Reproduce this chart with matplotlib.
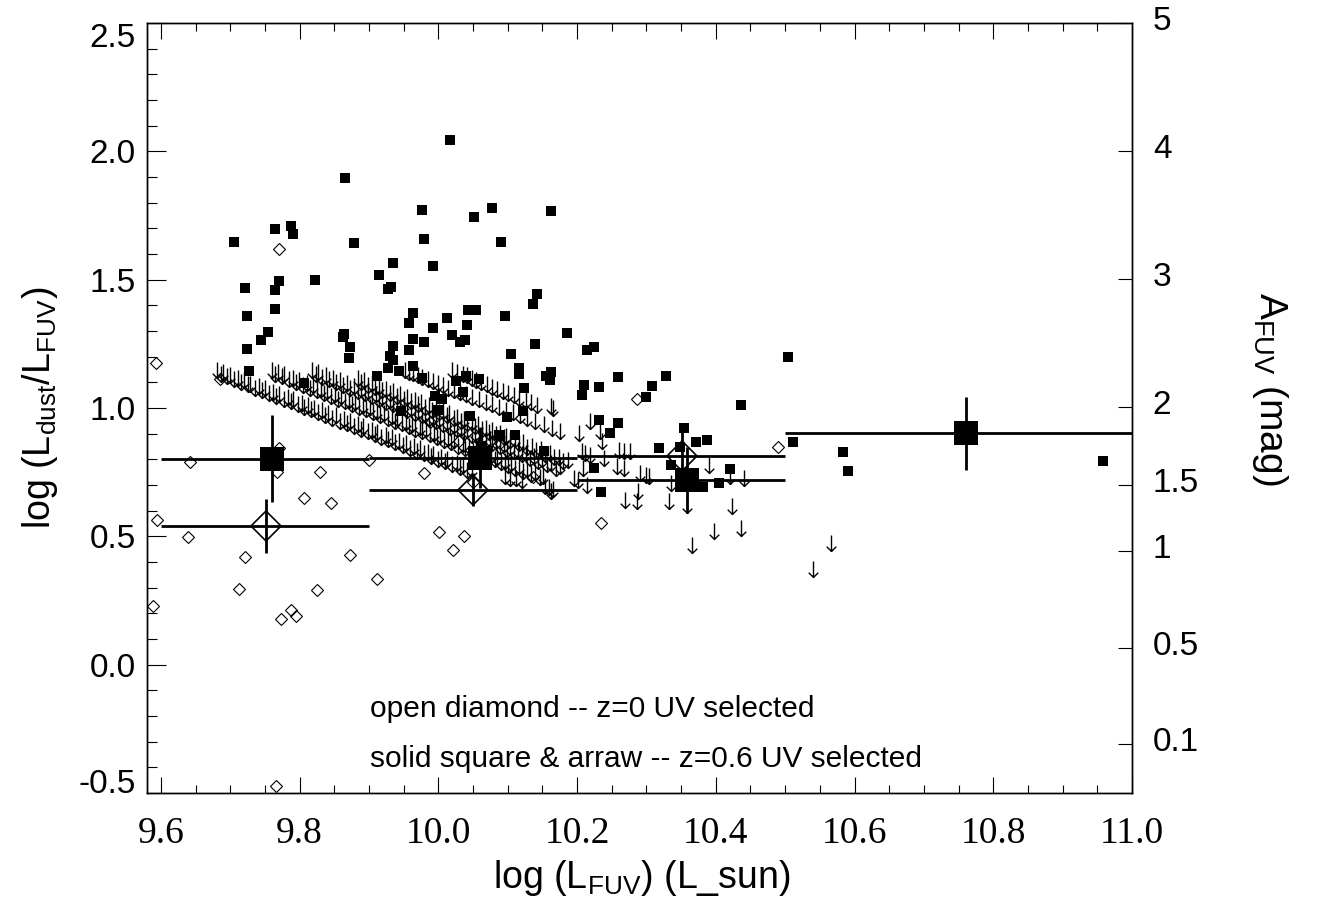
import matplotlib
matplotlib.use("Agg")
import matplotlib.pyplot as plt
from matplotlib.path import Path
from matplotlib.ticker import MultipleLocator, NullLocator
from matplotlib.transforms import ScaledTranslation

plt.rcParams["font.family"] = ["Liberation Sans", "DejaVu Sans"]
plt.rcParams["mathtext.fontset"] = "custom"
plt.rcParams["mathtext.rm"] = "Liberation Sans"
plt.rcParams["mathtext.it"] = "Liberation Sans:italic"
plt.rcParams["mathtext.bf"] = "Liberation Sans:bold"

# ---------------- data ----------------
# z=0.6 UV selected: detections (small solid squares)
sq_x = [10.017, 9.865, 9.976, 10.078, 10.051, 10.162, 9.764, 9.787, 9.791, 9.705,
        9.878, 9.980, 10.090, 9.935, 9.992, 9.914, 9.721, 9.764, 9.771, 9.822,
        9.927, 9.932, 10.142, 10.137, 9.764, 9.724, 9.963, 9.957, 10.012, 10.043,
        10.054, 10.041, 10.096, 9.992, 9.755, 9.744, 9.864, 9.862, 10.019, 9.963,
        9.979, 10.039, 10.031, 10.185, 10.140, 9.724, 9.872, 9.935, 9.957, 10.225,
        10.214, 10.504, 10.259, 10.328, 10.308, 10.300, 10.210, 10.232, 10.207, 10.436,
        10.231, 10.259, 10.248, 10.354, 10.371, 10.388, 10.318, 10.348, 10.511, 10.584,
        10.590, 10.421, 10.336, 10.405, 10.381, 10.224, 10.234, 10.152, 10.123, 10.117,
        10.117, 10.163, 10.155, 10.161, 10.105, 10.122, 10.099, 10.111, 10.087, 10.045,
        10.058, 10.026, 10.035, 9.995, 10.005, 9.999, 9.964, 10.040, 9.977, 9.946,
        10.958, 9.727, 9.871, 9.931, 9.935, 9.928, 9.943, 9.806, 9.911, 10.062]
sq_y = [2.044, 1.897, 1.772, 1.780, 1.745, 1.769, 1.699, 1.709, 1.679, 1.647,
        1.644, 1.660, 1.648, 1.566, 1.555, 1.519, 1.469, 1.461, 1.496, 1.500,
        1.465, 1.473, 1.445, 1.404, 1.387, 1.360, 1.371, 1.332, 1.352, 1.383,
        1.383, 1.325, 1.360, 1.313, 1.295, 1.266, 1.287, 1.278, 1.286, 1.270,
        1.256, 1.266, 1.256, 1.294, 1.251, 1.229, 1.239, 1.242, 1.226, 1.239,
        1.226, 1.200, 1.122, 1.125, 1.086, 1.044, 1.090, 1.082, 1.051, 1.012,
        0.953, 0.943, 0.904, 0.923, 0.869, 0.876, 0.843, 0.848, 0.869, 0.830,
        0.756, 0.764, 0.777, 0.707, 0.694, 0.768, 0.673, 0.834, 1.079, 1.157,
        1.133, 1.142, 1.124, 1.109, 1.212, 0.990, 0.966, 0.896, 0.896, 0.968,
        1.114, 1.104, 1.061, 1.048, 1.035, 0.994, 1.164, 1.126, 1.118, 0.989,
        0.795, 1.145, 1.196, 1.204, 1.188, 1.155, 1.144, 1.096, 1.125, 0.853]

# z=0.6 UV selected: upper limits (arrows), top of arrow = limit
arrow_x = [
    # band 1
    9.681, 9.690, 9.699, 9.711, 9.720, 9.729, 9.742, 9.750, 9.761, 9.770,
    9.783, 9.791, 9.803, 9.812, 9.821, 9.833, 9.841, 9.852, 9.864, 9.872,
    9.884, 9.892, 9.904, 9.912, 9.924, 9.933, 9.944, 9.953, 9.965, 9.973,
    9.985, 9.993, 10.004, 10.013, 10.027, 10.036, 10.048,
    9.686, 9.695, 9.705, 9.716, 9.725, 9.736, 9.746, 9.756, 9.766, 9.777,
    9.787, 9.797, 9.807, 9.817, 9.827, 9.837, 9.847, 9.858, 9.868, 9.878,
    9.888, 9.898, 9.908, 9.918, 9.928, 9.938, 9.949, 9.959, 9.969, 9.979,
    9.989, 9.999, 10.009, 10.020, 10.031, 10.042,
    # band 2
    9.760, 9.769, 9.778, 9.790, 9.799, 9.810, 9.819, 9.831, 9.839, 9.851,
    9.860, 9.871, 9.880, 9.892, 9.901, 9.912, 9.921, 9.933, 9.941, 9.953,
    9.962, 9.973, 9.982, 9.994, 10.003, 10.014, 10.023, 10.035, 10.044, 10.055,
    10.064, 10.076, 10.085, 10.096, 10.105, 10.117, 10.128, 10.140, 10.151,
    9.765, 9.774, 9.784, 9.795, 9.805, 9.815, 9.825, 9.835, 9.845, 9.856,
    9.866, 9.876, 9.886, 9.896, 9.906, 9.916, 9.927, 9.937, 9.947, 9.957,
    9.967, 9.977, 9.988, 9.998, 10.008, 10.018, 10.029, 10.039, 10.050, 10.060,
    10.070, 10.081, 10.091, 10.101, 10.111, 10.122, 10.134, 10.146,
    # band 3
    9.818, 9.827, 9.838, 9.848, 9.858, 9.869, 9.878, 9.889, 9.899, 9.910,
    9.919, 9.930, 9.940, 9.951, 9.960, 9.971, 9.981, 9.992, 10.001, 10.012,
    10.022, 10.033, 10.042, 10.053, 10.063, 10.074, 10.083, 10.094, 10.104, 10.115,
    10.126, 10.138, 10.150, 10.163, 10.176,
    9.823, 9.833, 9.843, 9.853, 9.863, 9.873, 9.884, 9.894, 9.904, 9.914,
    9.925, 9.935, 9.945, 9.955, 9.966, 9.976, 9.986, 9.996, 10.007, 10.017,
    10.027, 10.037, 10.048, 10.058, 10.068, 10.078, 10.089, 10.099, 10.109, 10.120,
    10.132, 10.144, 10.157, 10.170,
    # band 4
    9.884, 9.893, 9.904, 9.914, 9.925, 9.934, 9.945, 9.955, 9.966, 9.975,
    9.986, 9.996, 10.007, 10.016, 10.027, 10.037, 10.048, 10.057, 10.068, 10.078,
    10.089, 10.098, 10.110, 10.122, 10.135, 10.148, 10.161, 10.174, 10.187,
    9.889, 9.899, 9.909, 9.919, 9.930, 9.940, 9.950, 9.960, 9.970, 9.981,
    9.991, 10.001, 10.012, 10.022, 10.032, 10.042, 10.053, 10.063, 10.073, 10.083,
    10.094, 10.104, 10.116, 10.128, 10.141, 10.154, 10.167, 10.180,
    # band 5
    9.952, 9.958, 9.964, 9.970, 9.977, 9.985, 9.992, 9.999, 10.006, 10.014,
    10.022, 10.031, 10.040, 10.049, 10.058, 10.068, 10.078, 10.088, 10.098, 10.108,
    10.118, 10.128, 10.140, 10.152, 10.164, 10.176,
    # band 6
    10.020, 10.027, 10.035, 10.041, 10.048, 10.055, 10.062, 10.070, 10.078, 10.085,
    10.093, 10.101, 10.109, 10.117, 10.126, 10.134, 10.142, 10.165,
    # scattered
    10.096, 10.104, 10.112, 10.120, 10.154, 10.160, 10.165,
    10.163, 10.218, 10.233, 10.203, 10.236, 10.207, 10.212, 10.219, 10.239, 10.209,
    10.196, 10.202, 10.214, 10.162, 10.260, 10.268, 10.276, 10.258, 10.268, 10.291,
    10.300, 10.303, 10.288, 10.269, 10.287, 10.333, 10.335, 10.359, 10.366, 10.398,
    10.390, 10.423, 10.436, 10.441, 10.421, 10.566, 10.540]
arrow_y = [
    1.181, 1.172, 1.160, 1.150, 1.141, 1.126, 1.118, 1.108, 1.095, 1.087,
    1.073, 1.066, 1.052, 1.044, 1.031, 1.024, 1.010, 1.002, 0.989, 0.981,
    0.967, 0.960, 0.946, 0.938, 0.925, 0.917, 0.904, 0.895, 0.882, 0.875,
    0.861, 0.853, 0.840, 0.832, 0.817, 0.808, 0.793,
    1.164, 1.154, 1.144, 1.132, 1.123, 1.111, 1.100, 1.090, 1.079, 1.068,
    1.057, 1.047, 1.036, 1.026, 1.015, 1.005, 0.994, 0.982, 0.972, 0.961,
    0.951, 0.940, 0.930, 0.919, 0.909, 0.898, 0.887, 0.876, 0.865, 0.855,
    0.844, 0.834, 0.823, 0.812, 0.800, 0.789,
    1.181, 1.170, 1.162, 1.149, 1.140, 1.127, 1.119, 1.106, 1.098, 1.084,
    1.077, 1.063, 1.055, 1.042, 1.034, 1.020, 1.013, 0.999, 0.991, 0.978,
    0.969, 0.956, 0.948, 0.935, 0.926, 0.913, 0.905, 0.891, 0.883, 0.870,
    0.861, 0.848, 0.840, 0.826, 0.818, 0.805, 0.793, 0.781, 0.768,
    1.164, 1.154, 1.144, 1.132, 1.122, 1.111, 1.100, 1.090, 1.079, 1.068,
    1.057, 1.047, 1.036, 1.026, 1.015, 1.005, 0.993, 0.982, 0.972, 0.961,
    0.951, 0.940, 0.929, 0.918, 0.908, 0.897, 0.885, 0.875, 0.863, 0.853,
    0.842, 0.831, 0.820, 0.810, 0.799, 0.787, 0.775, 0.762,
    1.181, 1.171, 1.160, 1.149, 1.139, 1.127, 1.117, 1.106, 1.096, 1.084,
    1.074, 1.063, 1.052, 1.041, 1.031, 1.019, 1.009, 0.998, 0.988, 0.976,
    0.966, 0.955, 0.945, 0.933, 0.923, 0.912, 0.902, 0.890, 0.880, 0.869,
    0.857, 0.845, 0.832, 0.818, 0.804,
    1.164, 1.153, 1.143, 1.132, 1.122, 1.111, 1.099, 1.089, 1.078, 1.068,
    1.056, 1.046, 1.035, 1.025, 1.013, 1.002, 0.992, 0.981, 0.970, 0.959,
    0.949, 0.938, 0.927, 0.916, 0.906, 0.895, 0.883, 0.873, 0.862, 0.851,
    0.838, 0.825, 0.812, 0.798,
    1.150, 1.140, 1.129, 1.118, 1.107, 1.097, 1.085, 1.075, 1.063, 1.054,
    1.042, 1.031, 1.020, 1.010, 0.998, 0.988, 0.976, 0.967, 0.955, 0.944,
    0.933, 0.923, 0.910, 0.898, 0.884, 0.870, 0.856, 0.842, 0.828,
    1.133, 1.122, 1.112, 1.101, 1.090, 1.079, 1.068, 1.058, 1.047, 1.036,
    1.025, 1.015, 1.003, 0.993, 0.982, 0.971, 0.960, 0.949, 0.938, 0.928,
    0.917, 0.906, 0.893, 0.880, 0.867, 0.853, 0.839, 0.825,
    1.178, 1.172, 1.166, 1.160, 1.152, 1.143, 1.135, 1.128, 1.120, 1.110,
    1.103, 1.094, 1.085, 1.075, 1.066, 1.056, 1.045, 1.035, 1.024, 1.014,
    1.003, 0.993, 0.980, 0.968, 0.955, 0.943,
    1.181, 1.172, 1.165, 1.158, 1.150, 1.142, 1.134, 1.124, 1.112, 1.104,
    1.097, 1.089, 1.080, 1.071, 1.062, 1.053, 1.044, 1.031,
    0.765, 0.760, 0.757, 0.752, 0.727, 0.722, 0.717,
    1.038, 0.980, 0.941, 0.934, 0.902, 0.863, 0.856, 0.849, 0.837, 0.798,
    0.759, 0.752, 0.733, 0.707, 0.869, 0.863, 0.863, 0.804, 0.798, 0.778,
    0.772, 0.765, 0.707, 0.674, 0.668, 0.668, 0.739, 0.655, 0.499, 0.551,
    0.810, 0.648, 0.564, 0.759, 0.765, 0.505, 0.405]

# z=0 UV selected (small open diamonds)
dia_x = [9.5925, 9.685, 9.771, 9.642, 9.771, 9.767, 9.829, 9.900, 9.979, 9.807,
         9.845, 9.594, 9.639, 9.721, 9.872, 10.001, 10.037, 10.021, 9.911, 9.712,
         9.825, 9.588, 9.773, 9.788, 9.795, 9.766, 10.234, 10.089, 10.137, 10.050,
         10.287, 10.490, 9.988, 10.030]
dia_y = [1.177, 1.113, 1.618, 0.791, 0.846, 0.750, 0.750, 0.798, 0.746, 0.648,
         0.631, 0.564, 0.497, 0.419, 0.426, 0.516, 0.502, 0.447, 0.333, 0.295,
         0.291, 0.230, 0.177, 0.213, 0.190, -0.471, 0.551, 0.863, 0.733, 0.713,
         1.035, 0.847, 0.946, 0.870]

# binned means: z=0.6 (large solid squares)
bin_sq_x = [9.760, 10.060, 10.359, 10.760]
bin_sq_y = [0.803, 0.807, 0.720, 0.901]
bin_sq_xlo = [9.60, 9.90, 10.20, 10.50]
bin_sq_xhi = [9.90, 10.20, 10.50, 11.00]
bin_sq_yerr = [0.170, 0.120, 0.130, 0.142]

# binned means: z=0 (large open diamonds)
bin_di_x = [9.751, 10.050, 10.351]
bin_di_y = [0.540, 0.681, 0.813]
bin_di_xlo = [9.60, 9.90, 10.20]
bin_di_xhi = [9.90, 10.20, 10.50]
bin_di_yerr = [0.106, 0.064, 0.128]

x_ticks = [9.6, 9.8, 10.0, 10.2, 10.4, 10.6, 10.8, 11.0]
x_ticklabels = ["9.6", "9.8", "10.0", "10.2", "10.4", "10.6", "10.8", "11.0"]
y_ticks = [-0.5, 0.0, 0.5, 1.0, 1.5, 2.0, 2.5]
y_ticklabels = ["-0.5", "0.0", "0.5", "1.0", "1.5", "2.0", "2.5"]
afuv_ticks = [2.5, 2.002, 1.501, 1.004, 0.700, 0.443, 0.063, -0.309]
afuv_labels = ["5", "4", "3", "2", "1.5", "1", "0.5", "0.1"]

# ---------------- figure ----------------
W, H = 1334, 898
fig = plt.figure(figsize=(W / 100, H / 100), dpi=100)
L, R, T, B = 147, 1132, 23, 793
ax = fig.add_axes([L / W, 1 - B / H, (R - L) / W, (B - T) / H])
ax.set_xlim(9.58, 11.0)
ax.set_ylim(-0.5, 2.5)

arrow_marker = Path([(0, 0), (0, -1), (-0.30, -0.70), (0, -1), (0.30, -0.70)],
                    [Path.MOVETO, Path.LINETO, Path.MOVETO, Path.LINETO, Path.LINETO])

ax.plot(arrow_x, arrow_y, ls="none", marker=arrow_marker, ms=23,
        mfc="none", mec="black", mew=1.0, zorder=2)
ax.plot(sq_x, sq_y, ls="none", marker="s", ms=6.6, mfc="black", mec="black",
        mew=0, zorder=3)
ax.plot(dia_x, dia_y, ls="none", marker="D", ms=6.2, mfc="none", mec="black",
        mew=0.8, zorder=3)

sq_xerr = [[c - lo for c, lo in zip(bin_sq_x, bin_sq_xlo)],
           [hi - c for c, hi in zip(bin_sq_x, bin_sq_xhi)]]
ax.errorbar(bin_sq_x, bin_sq_y, xerr=sq_xerr, yerr=bin_sq_yerr, fmt="s",
            ms=17.3, mfc="black", mec="black", mew=0, ecolor="black",
            elinewidth=2.0, capsize=0, zorder=4)
di_xerr = [[c - lo for c, lo in zip(bin_di_x, bin_di_xlo)],
           [hi - c for c, hi in zip(bin_di_x, bin_di_xhi)]]
ax.errorbar(bin_di_x, bin_di_y, xerr=di_xerr, yerr=bin_di_yerr, fmt="D",
            ms=14.8, mfc="none", mec="black", mew=1.2, ecolor="black",
            elinewidth=2.0, capsize=0, zorder=4)

for s in ax.spines.values():
    s.set_linewidth(1.0)

ax.set_xticks(x_ticks, labels=x_ticklabels)
ax.xaxis.set_minor_locator(MultipleLocator(0.05))
ax.tick_params(axis="x", which="both", direction="in", top=True, bottom=True,
               width=0.8, labelsize=27, labelfontfamily="Liberation Serif", pad=17)
ax.tick_params(axis="x", which="major", length=11.5)
ax.tick_params(axis="x", which="minor", length=5.8)

ax.set_yticks(y_ticks, labels=y_ticklabels)
ax.yaxis.set_minor_locator(MultipleLocator(0.1))
ax.tick_params(axis="y", which="both", direction="in", left=True, right=False,
               width=0.8, labelsize=24, labelfontfamily="Liberation Sans", pad=8)
ax.tick_params(axis="y", which="major", length=13.7)
ax.tick_params(axis="y", which="minor", length=7.2)
yt = ax.yaxis.get_major_ticks()
yt[0].label1.set_verticalalignment("baseline")
yt[-1].label1.set_verticalalignment("top")

ax2 = ax.twinx()
ax2.set_ylim(-0.5, 2.5)
ax2.set_yticks(afuv_ticks, labels=afuv_labels)
ax2.yaxis.set_minor_locator(NullLocator())
ax2.tick_params(axis="y", direction="in", length=10, width=0.8, labelsize=24,
                labelfontfamily="Liberation Sans", pad=15)
shift_up = ScaledTranslation(0, 5 / 100, fig.dpi_scale_trans)
for tk in ax2.yaxis.get_major_ticks():
    tk.label2.set_transform(tk.label2.get_transform() + shift_up)
for s in ax2.spines.values():
    s.set_linewidth(1.0)

ax.set_xlabel(r"log (L$_\mathrm{FUV}$) (L_sun)", fontsize=27)
ax.xaxis.set_label_coords(0.502, -0.084)
ax.set_ylabel(r"log (L$_\mathrm{dust}$/L$_\mathrm{FUV}$)", fontsize=27)
ax.yaxis.set_label_coords(-0.088, 0.5)
ax2.set_ylabel(r"A$_\mathrm{FUV}$ (mag)", fontsize=28, rotation=270,
               va="bottom")
ax2.yaxis.set_label_coords(1.120, 0.525)

ax.text(9.9015, -0.204, "open diamond -- z=0 UV selected", fontsize=21.5,
        ha="left", va="baseline")
ax.text(9.9015, -0.398, "solid square & arraw -- z=0.6 UV selected",
        fontsize=21.5, ha="left", va="baseline")

fig.savefig("out.png", dpi=100)
